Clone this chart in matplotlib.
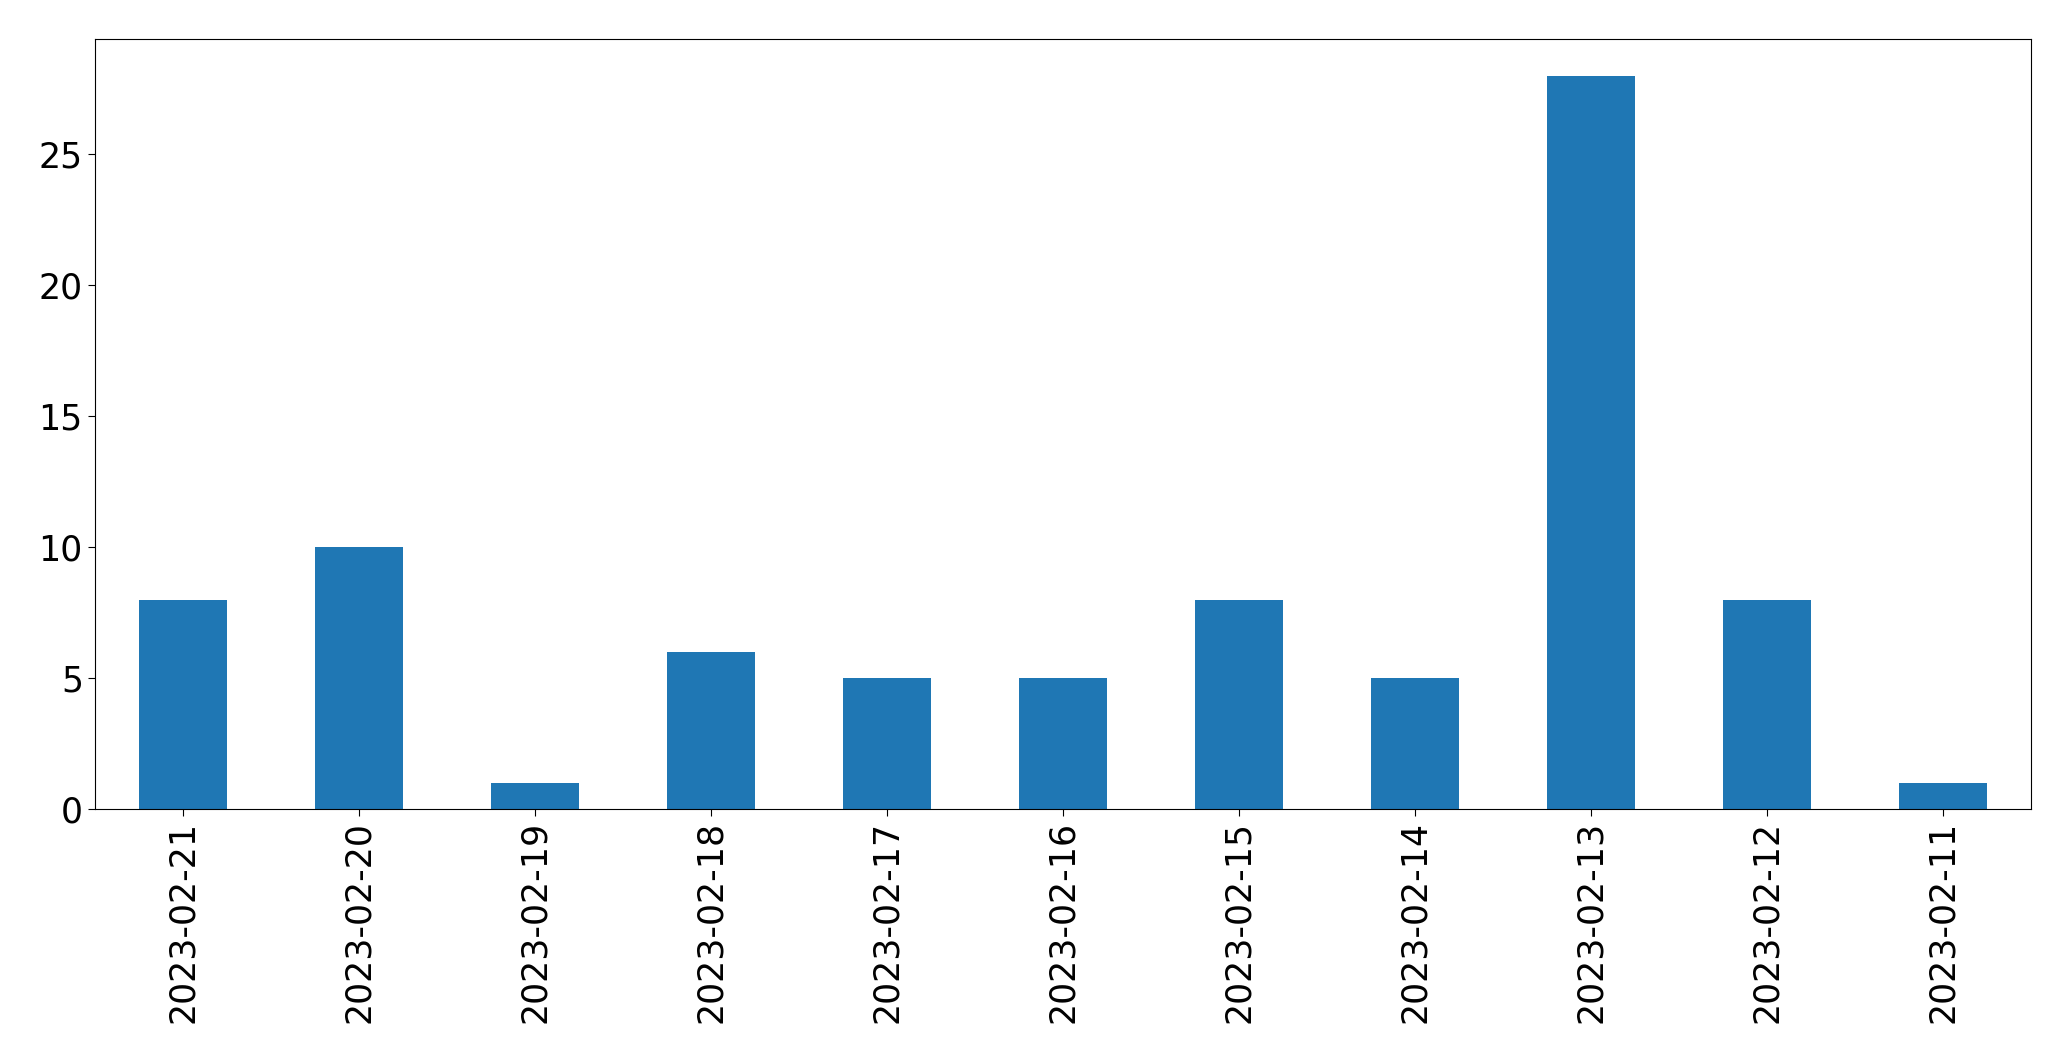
import matplotlib
matplotlib.use("Agg")
import matplotlib.pyplot as plt
import pandas as pd

dates = ["2023-02-21", "2023-02-20", "2023-02-19", "2023-02-18", "2023-02-17",
         "2023-02-16", "2023-02-15", "2023-02-14", "2023-02-13", "2023-02-12",
         "2023-02-11"]
counts = [8, 10, 1, 6, 5, 5, 8, 5, 28, 8, 1]

s = pd.Series(counts, index=dates)

fig = plt.figure(figsize=(20.71, 10.61), dpi=100)
ax = fig.add_axes([0.0457, 0.2375, 0.935, 0.7255])
s.plot(kind="bar", ax=ax, color="#1f77b4", fontsize=25, rot=90)
ax.tick_params(length=5)

plt.savefig("out.png", dpi=100)
